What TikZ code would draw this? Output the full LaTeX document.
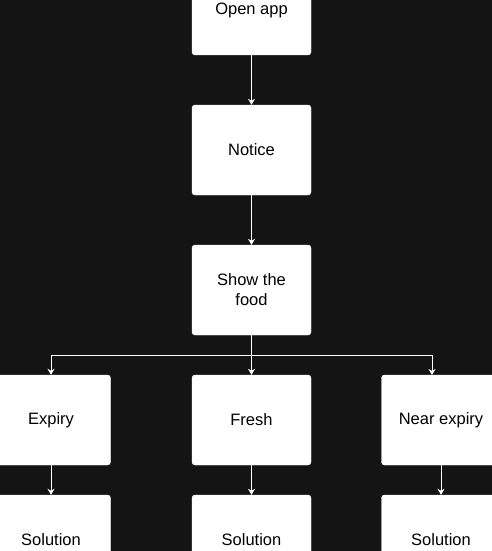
\documentclass[tikz,border=0pt]{standalone}
\usepackage{fontspec}
\setmainfont{Liberation Sans}
\usetikzlibrary{arrows.meta}
\definecolor{bgdark}{HTML}{141414}

\begin{document}
\begin{tikzpicture}
[x=1pt,y=-1pt,%
  every node/.style={shape=rectangle,rounded corners=3pt,fill=white,draw=white,
    minimum width=119pt,minimum height=90pt,align=center,
    font=\fontsize{16.5pt}{20pt}\selectfont,text=black},%
  link/.style={draw=white,line width=0.9pt,-{Stealth[length=6pt,width=7pt]}}]
\fill[bgdark] (0,0) rectangle (492,551);
\useasboundingbox (0,0) rectangle (492,551);
% main column
\node (open) at (251.5,10) {Open app};
\node (notice) at (251.5,150) {Notice};
\node (show) at (251.5,290) {Show the\\food};
% three cases
\node (expiry) at (51,420) {Expiry};
\node (fresh) at (251.5,420) {Fresh};
\node (near) at (441,420) {Near expiry};
\node (solA) at (51,540) {Solution};
\node (solB) at (251.5,540) {Solution};
\node (solC) at (441,540) {Solution};
\coordinate (split) at (251.5,355);
\coordinate (nearin) at (432,375);
\draw[link] (open) -- (notice);
\draw[link] (notice) -- (show);
\draw[link] (show) -- (fresh);
\draw[link] (split) -| (expiry.north);
\draw[link] (split) -| (nearin);
\draw[link] (expiry) -- (solA);
\draw[link] (fresh) -- (solB);
\draw[link] (near) -- (solC);
\end{tikzpicture}
\end{document}
